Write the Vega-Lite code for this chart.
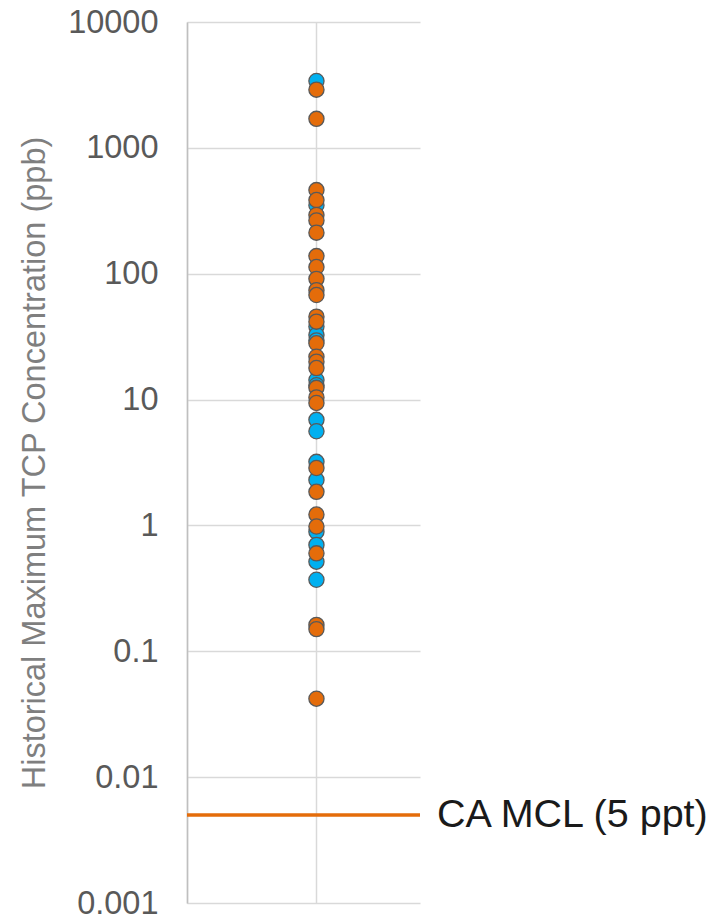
{
  "$schema": "https://vega.github.io/schema/vega-lite/v6.json",
  "width": 233,
  "height": 881,
  "autosize": {"type": "none"},
  "padding": {"left": 187, "top": 22, "right": 289, "bottom": 15},
  "background": "white",
  "config": {"view": {"stroke": null}, "font": "Liberation Sans"},
  "datasets": {
    "pts": [
      {"series": "B", "x": 1, "v": 3400},
      {"series": "B", "x": 1, "v": 350},
      {"series": "B", "x": 1, "v": 38},
      {"series": "B", "x": 1, "v": 32.6},
      {"series": "B", "x": 1, "v": 29.5},
      {"series": "B", "x": 1, "v": 14.3},
      {"series": "B", "x": 1, "v": 13},
      {"series": "B", "x": 1, "v": 6.9},
      {"series": "B", "x": 1, "v": 5.6},
      {"series": "B", "x": 1, "v": 3.2},
      {"series": "B", "x": 1, "v": 2.3},
      {"series": "B", "x": 1, "v": 0.89},
      {"series": "B", "x": 1, "v": 0.7},
      {"series": "B", "x": 1, "v": 0.515},
      {"series": "B", "x": 1, "v": 0.37},
      {"series": "O", "x": 1, "v": 2900},
      {"series": "O", "x": 1, "v": 1700},
      {"series": "O", "x": 1, "v": 462},
      {"series": "O", "x": 1, "v": 385},
      {"series": "O", "x": 1, "v": 293},
      {"series": "O", "x": 1, "v": 265},
      {"series": "O", "x": 1, "v": 212},
      {"series": "O", "x": 1, "v": 138},
      {"series": "O", "x": 1, "v": 113},
      {"series": "O", "x": 1, "v": 91},
      {"series": "O", "x": 1, "v": 74},
      {"series": "O", "x": 1, "v": 67.7},
      {"series": "O", "x": 1, "v": 45.6},
      {"series": "O", "x": 1, "v": 41.6},
      {"series": "O", "x": 1, "v": 28},
      {"series": "O", "x": 1, "v": 21.9},
      {"series": "O", "x": 1, "v": 20},
      {"series": "O", "x": 1, "v": 17.8},
      {"series": "O", "x": 1, "v": 12.4},
      {"series": "O", "x": 1, "v": 10.4},
      {"series": "O", "x": 1, "v": 9.4},
      {"series": "O", "x": 1, "v": 2.86},
      {"series": "O", "x": 1, "v": 1.85},
      {"series": "O", "x": 1, "v": 1.22},
      {"series": "O", "x": 1, "v": 0.98},
      {"series": "O", "x": 1, "v": 0.6},
      {"series": "O", "x": 1, "v": 0.162},
      {"series": "O", "x": 1, "v": 0.15},
      {"series": "O", "x": 1, "v": 0.042}
    ],
    "mcl": [{"x": 1.8, "v": 0.005, "label": "CA MCL (5 ppt)"}]
  },
  "layer": [
    {
      "data": {"name": "mcl"},
      "mark": {"type": "rule", "color": "#E46C0A", "strokeWidth": 3.5},
      "encoding": {
        "y": {
          "field": "v", "type": "quantitative",
          "scale": {"type": "log", "domain": [0.001, 10000]},
          "axis": {
            "values": [0.001, 0.01, 0.1, 1, 10, 100, 1000, 10000],
            "labelExpr": "datum.value + ''",
            "labelFontSize": 32.5,
            "labelColor": "#595959",
            "labelPadding": 29,
            "labelOverlap": false,
            "labelBound": false,
            "ticks": false,
            "domain": true,
            "domainColor": "#bfbfbf",
            "domainWidth": 1.5,
            "grid": true,
            "gridColor": "#d9d9d9",
            "gridWidth": 1.5,
            "title": "Historical Maximum TCP Concentration (ppb)",
            "titleFontSize": 32.5,
            "titleFontWeight": "normal",
            "titleColor": "#7f7f7f",
            "titlePadding": 16
          }
        }
      }
    },
    {
      "data": {"name": "mcl"},
      "mark": {"type": "text", "align": "left", "baseline": "middle", "dx": 17, "fontSize": 39.5, "color": "#1a1a1a"},
      "encoding": {
        "x": {"field": "x", "type": "quantitative"},
        "y": {"field": "v", "type": "quantitative"},
        "text": {"field": "label"}
      }
    },
    {
      "data": {"name": "pts"},
      "mark": {"type": "point", "shape": "circle", "filled": true, "size": 230, "stroke": "#595959", "strokeWidth": 1.3, "opacity": 1},
      "encoding": {
        "x": {
          "field": "x", "type": "quantitative",
          "scale": {"domain": [0, 1.8], "nice": false, "zero": true},
          "axis": {
            "values": [0, 1],
            "labels": false, "ticks": false, "domain": false,
            "grid": true, "gridColor": "#d9d9d9", "gridWidth": 1.5,
            "title": null
          }
        },
        "y": {"field": "v", "type": "quantitative"},
        "color": {
          "field": "series", "type": "nominal",
          "scale": {"domain": ["B", "O"], "range": ["#00B0F0", "#E46C0A"]},
          "legend": null
        },
        "order": {"field": "series", "sort": "ascending"}
      }
    }
  ]
}
